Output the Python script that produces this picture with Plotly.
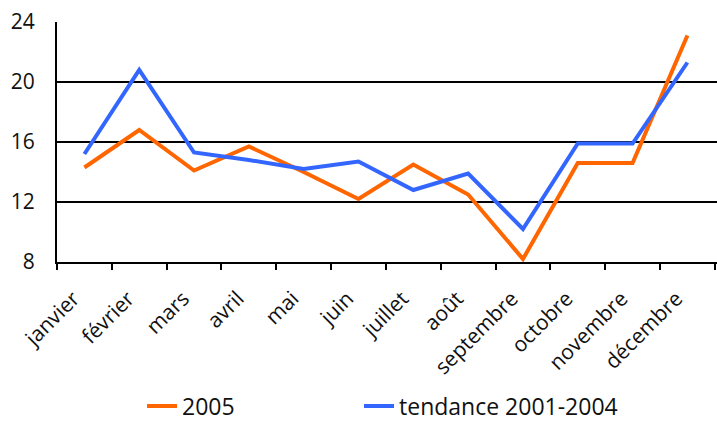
import plotly.graph_objects as go

months = ["janvier", "février", "mars", "avril", "mai", "juin", "juillet",
          "août", "septembre", "octobre", "novembre", "décembre"]
serie_2005 = [14.3, 16.8, 14.1, 15.7, 14.0, 12.2, 14.5, 12.5, 8.2, 14.6, 14.6, 23.1]
tendance = [15.2, 20.8, 15.3, 14.8, 14.2, 14.7, 12.8, 13.9, 10.2, 15.9, 15.9, 21.3]
y_ticks = [8, 12, 16, 20, 24]

FONT = "Open Sans"

fig = go.Figure()
fig.add_trace(go.Scatter(x=months, y=serie_2005, mode="lines", name="2005",
                         line=dict(color="#FF6600", width=4), legend="legend"))
fig.add_trace(go.Scatter(x=months, y=tendance, mode="lines", name="tendance 2001-2004",
                         line=dict(color="#3366FF", width=4), legend="legend2"))

leg_common = dict(orientation="h", xanchor="left", y=-0.60, yanchor="middle",
                  font=dict(size=23), bgcolor="rgba(0,0,0,0)")

fig.update_layout(
    width=717, height=423,
    margin=dict(l=57, r=0, t=22, b=161, autoexpand=False),
    paper_bgcolor="white", plot_bgcolor="white",
    font=dict(family=FONT, size=20, color="#111111"),
    showlegend=True,
    legend=dict(x=0.1288, **leg_common),
    legend2=dict(x=0.4576, **leg_common),
    xaxis=dict(type="category", range=[-0.5, 11.54], showline=True, linecolor="black",
               linewidth=2, ticks="outside", tickson="boundaries", ticklen=6,
               tickwidth=2, tickcolor="black", tickangle=-45, showgrid=False,
               tickfont=dict(size=21), ticklabelstandoff=14, ticklabelshift=-11,
               automargin=False),
    yaxis=dict(range=[8, 24], tickvals=y_ticks, showline=True, linecolor="black",
               linewidth=2, showgrid=True, gridcolor="black", gridwidth=2,
               ticks="", zeroline=False, ticklabelstandoff=16,
               tickfont=dict(size=21), automargin=False),
)

fig.write_html("out.html", config={"displayModeBar": False},
               post_script="document.body.style.margin='0';document.body.style.overflow='hidden';")
